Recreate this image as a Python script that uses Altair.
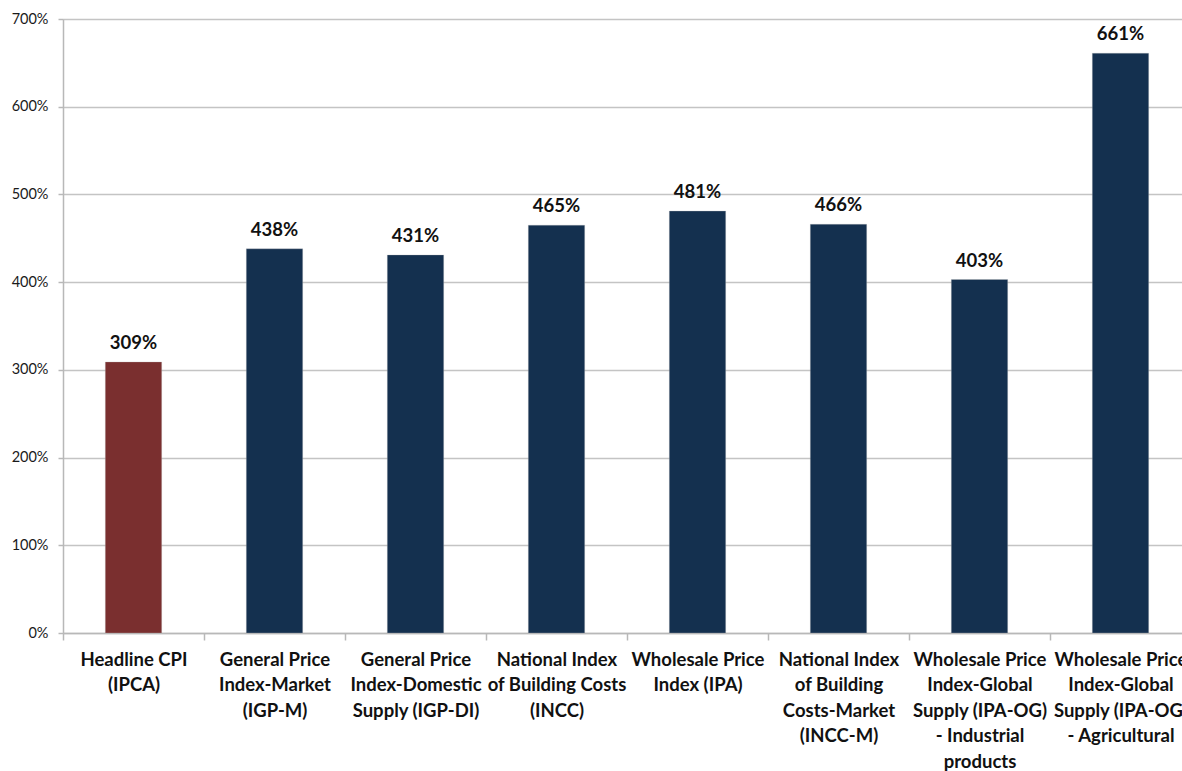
import altair as alt
import pandas as pd

categories = [
    "Headline CPI|(IPCA)",
    "General Price|Index-Market|(IGP-M)",
    "General Price|Index-Domestic|Supply (IGP-DI)",
    "National Index|of Building Costs|(INCC)",
    "Wholesale Price|Index (IPA)",
    "National Index|of Building|Costs-Market|(INCC-M)",
    "Wholesale Price|Index-Global|Supply (IPA-OG)|- Industrial|products",
    "Wholesale Price|Index-Global|Supply (IPA-OG)|- Agricultural",
]
values = [309, 438, 431, 465, 481, 466, 403, 661]
colors = ["#7a2f2f", "#14304f", "#14304f", "#14304f", "#14304f", "#14304f", "#14304f", "#14304f"]

df = pd.DataFrame({"cat": categories, "val": values, "color": colors})

FONT = "Lato"

x = alt.X(
    "cat:N",
    sort=None,
    title=None,
    scale=alt.Scale(range=[0, 1128], paddingInner=0, paddingOuter=0),
    axis=alt.Axis(
        labelExpr="split(datum.label, '|')",
        labelAngle=0,
        labelFont=FONT,
        labelFontSize=18.5,
        labelFontWeight="bold",
        labelColor="#111111",
        labelLineHeight=25.5,
        labelPadding=10,
        labelLimit=300,
        labelBaseline="top",
        tickBand="extent",
        tickSize=7,
        tickColor="#b8b8b8",
        tickWidth=1.5,
        domainColor="#b8b8b8",
        domainWidth=1.5,
        grid=False,
    ),
)

y = alt.Y(
    "val:Q",
    title=None,
    scale=alt.Scale(domain=[0, 700], nice=False),
    axis=alt.Axis(
        values=[0, 100, 200, 300, 400, 500, 600, 700],
        labelExpr="datum.value + '%'",
        labelFont=FONT,
        labelFontSize=14.5,
        labelColor="#1a1a1a",
        labelPadding=10,
        tickSize=5,
        tickColor="#b8b8b8",
        tickWidth=1.5,
        domainColor="#b8b8b8",
        domainWidth=1.5,
        gridColor="#c4c4c4",
        gridWidth=1.5,
    ),
)

bars = alt.Chart(df).mark_bar(
    width=alt.RelativeBandSize(0.4), stroke="#bbbbbb", strokeWidth=0.5, strokeOpacity=0.6
).encode(
    x=x,
    y=y,
    color=alt.Color("color:N", scale=None),
)

labels = alt.Chart(df).transform_calculate(lbl="datum.val + '%'").mark_text(
    font=FONT, fontSize=18.5, fontWeight="bold", color="#111111", baseline="bottom", dy=-9
).encode(
    x=alt.X("cat:N", sort=None),
    y=alt.Y("val:Q"),
    text="lbl:N",
)

chart = (
    alt.layer(bars, labels)
    .properties(
        width=1119,
        height=614,
        autosize=alt.AutoSizeParams(type="none"),
        padding={"left": 63, "top": 19, "right": 0, "bottom": 138},
    )
    .configure_view(stroke=None)
    .configure(background="white")
)

chart.save("out.html", embed_options={"renderer": "svg", "actions": False})
